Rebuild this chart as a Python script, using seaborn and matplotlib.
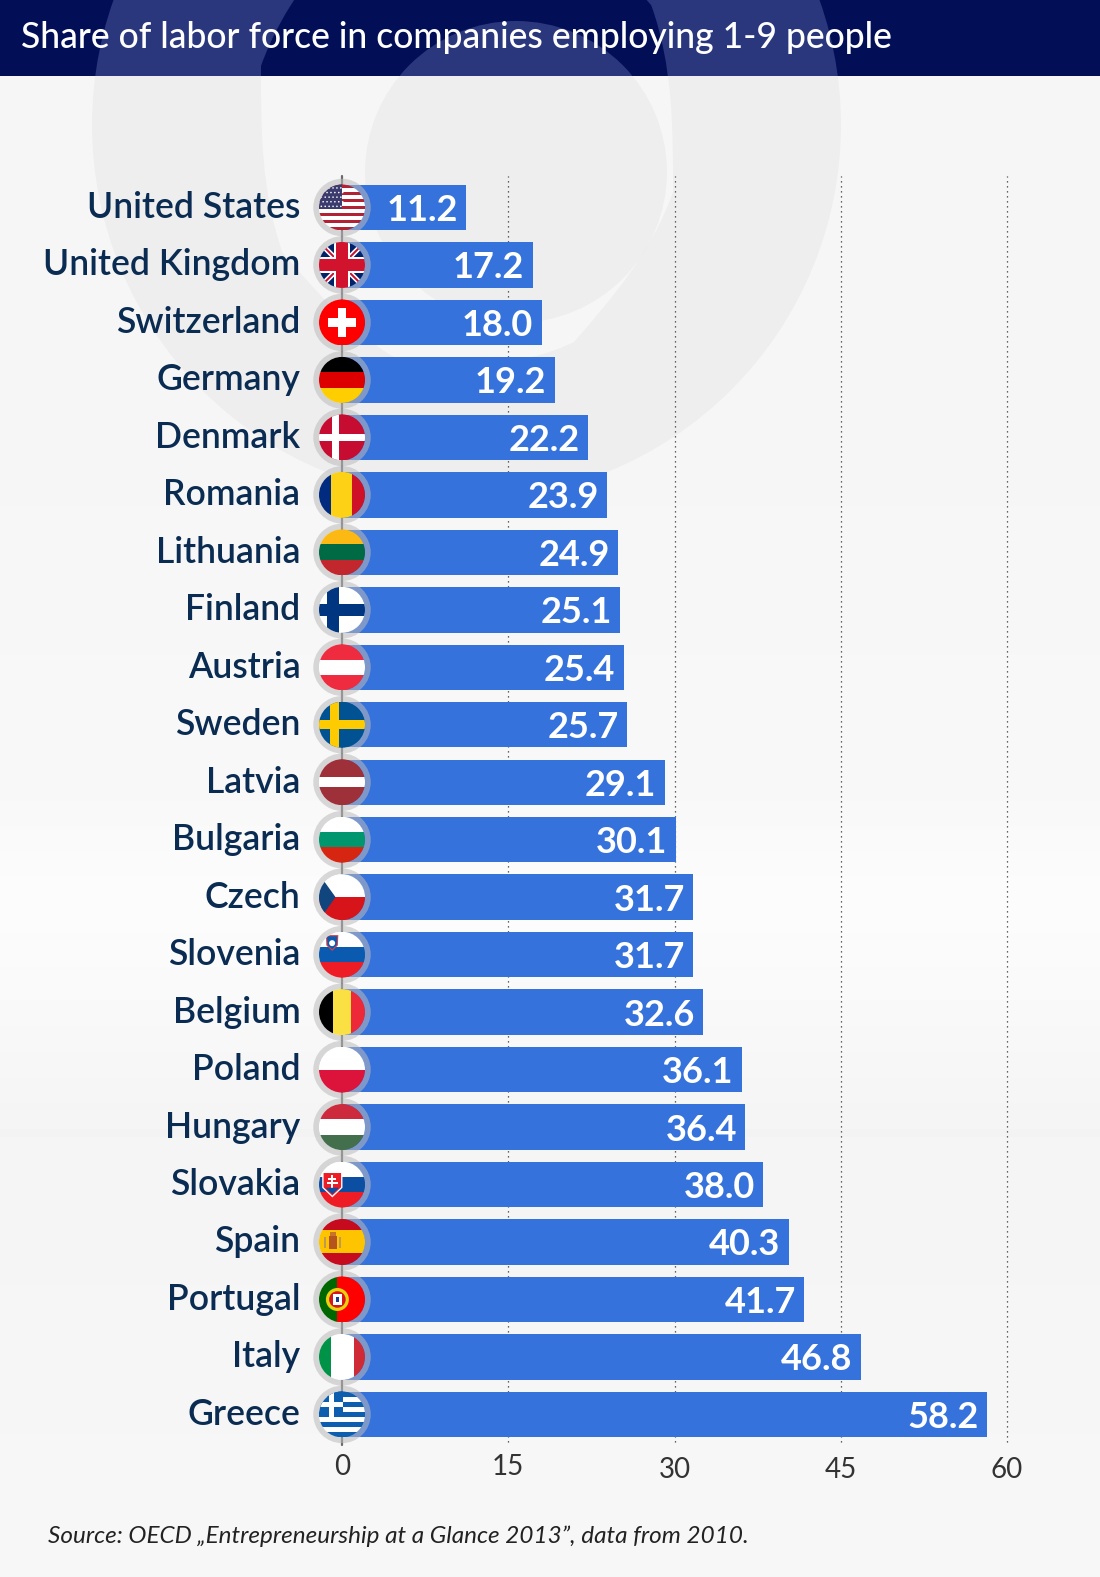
import numpy as np
import pandas as pd
import seaborn as sns
import matplotlib.pyplot as plt
from matplotlib.patches import Rectangle, Polygon, Circle, Ellipse, PathPatch
from matplotlib.path import Path
from matplotlib.transforms import Affine2D

countries = ["United States", "United Kingdom", "Switzerland", "Germany", "Denmark", "Romania",
             "Lithuania", "Finland", "Austria", "Sweden", "Latvia", "Bulgaria", "Czech", "Slovenia",
             "Belgium", "Poland", "Hungary", "Slovakia", "Spain", "Portugal", "Italy", "Greece"]
shares = [11.2, 17.2, 18.0, 19.2, 22.2, 23.9, 24.9, 25.1, 25.4, 25.7, 29.1, 30.1, 31.7, 31.7,
          32.6, 36.1, 36.4, 38.0, 40.3, 41.7, 46.8, 58.2]
value_labels = ["11.2", "17.2", "18.0", "19.2", "22.2", "23.9", "24.9", "25.1", "25.4", "25.7", "29.1",
                "30.1", "31.7", "31.7", "32.6", "36.1", "36.4", "38.0", "40.3", "41.7", "46.8", "58.2"]
x_ticks = [0, 15, 30, 45, 60]
title = "Share of labor force in companies employing 1-9 people"
source = "Source: OECD \u201eEntrepreneurship at a Glance 2013\u201d, data from 2010."

W, H = 1100, 1577
BLUE = "#3572dc"
NAVY = "#020f56"
NAVY_LIGHT = "#2a377d"
INK = "#0a2c52"

sns.set_theme(style="white")
plt.rcParams["font.family"] = ["Lato", "DejaVu Sans"]

fig = plt.figure(figsize=(W / 100, H / 100), dpi=100)


def px_axes(zorder):
    a = fig.add_axes([0, 0, 1, 1], zorder=zorder)
    a.set_xlim(0, W)
    a.set_ylim(H, 0)
    a.axis("off")
    a.patch.set_alpha(0)
    return a


# background: soft vertical gradient, header band and the big logo shape
bg = px_axes(0)
grad_y = np.arange(H)
grad = np.interp(grad_y, [0, 500, 800, 900, 1000, 1130, 1577], [245, 246, 248, 252, 249, 244, 247])
bg.imshow(grad[:, None], cmap="gray", vmin=0, vmax=255, extent=[0, W, H, 0], aspect="auto", zorder=0)
bg.add_patch(Rectangle((0, 0), W, 76, fc=NAVY, ec="none", zorder=1))

outer = Path.circle((466.5, 125), 374.5)
hole_patch = Ellipse((467, 129), 412, 476)
hole = hole_patch.get_path().transformed(hole_patch.get_patch_transform())
ring = Path(np.vstack([outer.vertices, hole.vertices[::-1]]),
            np.concatenate([outer.codes, hole.codes]))
inner = Path.circle((516, 172), 151)
body_clip = Rectangle((0, 76), W, H, transform=bg.transData)
head_clip = Rectangle((0, 0), W, 76, transform=bg.transData)
for shape in (ring, inner):
    p = PathPatch(shape, fc="black", ec="none", alpha=0.03, zorder=1)
    bg.add_patch(p)
    p.set_clip_path(body_clip)
    p = PathPatch(shape, fc=NAVY_LIGHT, ec="none", zorder=2)
    bg.add_patch(p)
    p.set_clip_path(head_clip)

# main chart, axes placed so 0 and 60 land on the reference gridlines
left, right, top, bottom = 342, 1007, 176, 1442
ax = fig.add_axes([left / W, 1 - bottom / H, (right - left) / W, (bottom - top) / H], zorder=1)
ax.patch.set_alpha(0)
df = pd.DataFrame({"country": countries, "share": shares})
sns.barplot(data=df, x="share", y="country", color=BLUE, saturation=1, width=0.79,
            edgecolor="none", linewidth=0, ax=ax, zorder=3)
ax.set_xlim(0, 60)
ax.set_ylim(21.48, -0.548)
ax.set_xlabel("")
ax.set_ylabel("")
sns.despine(ax=ax, left=True, bottom=True, top=True, right=True)
ax.set_xticks(x_ticks)
ax.tick_params(axis="x", length=0, pad=8.5, labelsize=20, labelcolor="#333333")
ax.tick_params(axis="y", length=0, pad=30, labelsize=25.6, labelcolor=INK)
for lab in ax.get_yticklabels():
    lab.set_fontweight(600)
    lab.set_verticalalignment("center_baseline")
for tick, tv in zip(ax.xaxis.get_major_ticks(), x_ticks):
    if tv >= 30:
        tick.set_pad(11)
for tv in x_ticks[1:]:
    ax.axvline(tv, color="#333333", lw=0.9, ls=(0, (1, 3)), zorder=1, clip_on=False)
ax.axvline(0, color="#6a6a6a", lw=1.6, zorder=2, ymin=-0.002, clip_on=False)

for i, (val, txt) in enumerate(zip(shares, value_labels)):
    ax.annotate(txt, (val, i), xytext=(-6, 0), textcoords="offset points", ha="right",
                va="center_baseline", color="white", fontsize=26, fontweight="bold", zorder=5)

# flags, drawn in a unit circle: x to the right, y downward
fg = px_axes(2)


def hstripes(colors, edges=None):
    edges = edges or np.linspace(-1, 1, len(colors) + 1)
    return [Rectangle((-1, edges[k]), 2, edges[k + 1] - edges[k], fc=c) for k, c in enumerate(colors)]


def vstripes(colors, edges=None):
    edges = edges or np.linspace(-1, 1, len(colors) + 1)
    return [Rectangle((edges[k], -1), edges[k + 1] - edges[k], 2, fc=c) for k, c in enumerate(colors)]


def nordic(base, cross, cx, tv, th):
    return [Rectangle((-1, -1), 2, 2, fc=base),
            Rectangle((cx - tv / 2, -1), tv, 2, fc=cross),
            Rectangle((-1, -th / 2), 2, th, fc=cross)]


def flag_usa():
    parts = hstripes(["#b22234" if k % 2 == 0 else "white" for k in range(13)])
    parts.append(Rectangle((-1, -1), 1, 1.07, fc="#3c3b6e"))
    for r in range(5):
        for c in range(6):
            parts.append(Circle((-0.9 + c * 0.17 + 0.08 * (r % 2), -0.85 + r * 0.2), 0.035, fc="white"))
    return parts


def flag_uk():
    parts = [Rectangle((-1, -1), 2, 2, fc="#012169")]
    for d in (1, -1):
        parts.append(Polygon([(-1.1, -1.1 * d + 0.16), (-1.1, -1.1 * d - 0.16),
                              (1.1, 1.1 * d - 0.16), (1.1, 1.1 * d + 0.16)], fc="white"))
        parts.append(Polygon([(-1.1, -1.1 * d + 0.06), (-1.1, -1.1 * d - 0.06),
                              (1.1, 1.1 * d - 0.06), (1.1, 1.1 * d + 0.06)], fc="#c8102e"))
    parts += [Rectangle((-0.36, -1), 0.72, 2, fc="white"), Rectangle((-1, -0.36), 2, 0.72, fc="white"),
              Rectangle((-0.26, -1), 0.52, 2, fc="#d2132d"), Rectangle((-1, -0.26), 2, 0.52, fc="#d2132d")]
    return parts


def flag_ch():
    return [Rectangle((-1, -1), 2, 2, fc="#ff0000"), Rectangle((-0.19, -0.62), 0.38, 1.24, fc="white"),
            Rectangle((-0.62, -0.19), 1.24, 0.38, fc="white")]


def flag_cz():
    return hstripes(["white", "#d7141a"]) + [Polygon([(-1, -1), (-0.28, 0), (-1, 1)], fc="#11457e")]


def flag_si():
    return hstripes(["white", "#0a5bb0", "#ee1c25"]) + [
        Polygon([(-0.7, -0.85), (-0.16, -0.85), (-0.18, -0.4), (-0.43, -0.16), (-0.68, -0.4)], fc="#d8404a"),
        Polygon([(-0.65, -0.8), (-0.21, -0.8), (-0.23, -0.42), (-0.43, -0.23), (-0.63, -0.42)], fc="#0a5bb0"),
        Circle((-0.43, -0.5), 0.13, fc="white")]


def flag_sk():
    return hstripes(["white", "#0b4ea2", "#ee1c25"]) + [
        Polygon([(-0.86, -0.56), (0.02, -0.56), (0.02, 0.14), (-0.42, 0.56), (-0.86, 0.14)], fc="white"),
        Polygon([(-0.8, -0.5), (-0.04, -0.5), (-0.04, 0.12), (-0.42, 0.48), (-0.8, 0.12)], fc="#ee1c25"),
        Rectangle((-0.46, -0.4), 0.08, 0.58, fc="white"),
        Rectangle((-0.6, -0.27), 0.36, 0.07, fc="white"),
        Rectangle((-0.65, -0.1), 0.46, 0.07, fc="white"),
        Polygon([(-0.72, 0.14), (-0.12, 0.14), (-0.42, 0.42)], fc="#0b4ea2")]


def flag_es():
    return hstripes(["#c60b1e", "#ffc400", "#c60b1e"], [-1, -0.5, 0.5, 1]) + [
        Rectangle((-0.58, -0.25), 0.36, 0.55, fc="#b5541c"),
        Rectangle((-0.78, -0.2), 0.1, 0.45, fc="#c09a50"),
        Rectangle((-0.14, -0.2), 0.1, 0.45, fc="#c09a50"),
        Rectangle((-0.52, -0.42), 0.24, 0.16, fc="#c8742a")]


def flag_pt():
    return vstripes(["#006600", "#ff0000"], [-1, -0.2, 1]) + [
        Circle((-0.2, 0), 0.5, fc="#e6d20d"),
        Circle((-0.2, 0), 0.36, fc="#d8151c"),
        Rectangle((-0.38, -0.24), 0.36, 0.48, fc="white"),
        Rectangle((-0.26, -0.12), 0.12, 0.24, fc="#1a3e8c")]


def flag_gr():
    blue = "#0d5eaf"
    parts = hstripes([blue if k % 2 == 0 else "white" for k in range(9)])
    parts += [Rectangle((-1, -1), 1.06, 1.11, fc=blue), Rectangle((-0.58, -1), 0.22, 1.11, fc="white"),
              Rectangle((-1, -0.56), 1.06, 0.22, fc="white")]
    return parts


flags = {
    "United States": flag_usa(),
    "United Kingdom": flag_uk(),
    "Switzerland": flag_ch(),
    "Germany": hstripes(["#000000", "#dd0000", "#ffce00"]),
    "Denmark": nordic("#c60c30", "white", -0.27, 0.3, 0.28),
    "Romania": vstripes(["#002b7f", "#fcd116", "#ce1126"], [-1, -0.46, 0.43, 1]),
    "Lithuania": hstripes(["#fdb913", "#006a44", "#c1272d"], [-1, -0.36, 0.33, 1]),
    "Finland": nordic("white", "#003580", -0.39, 0.55, 0.52),
    "Austria": hstripes(["#ef2b40", "white", "#ef2b40"], [-1, -0.33, 0.33, 1]),
    "Sweden": nordic("#005293", "#fecb00", -0.33, 0.4, 0.38),
    "Latvia": hstripes(["#9e3039", "white", "#9e3039"], [-1, -0.22, 0.22, 1]),
    "Bulgaria": hstripes(["white", "#00966e", "#d62612"], [-1, -0.34, 0.33, 1]),
    "Czech": flag_cz(),
    "Slovenia": flag_si(),
    "Belgium": vstripes(["#000000", "#fae042", "#ed2939"], [-1, -0.38, 0.39, 1]),
    "Poland": hstripes(["white", "#dc143c"]),
    "Hungary": hstripes(["#cd2a3e", "white", "#436f4d"], [-1, -0.34, 0.33, 1]),
    "Slovakia": flag_sk(),
    "Spain": flag_es(),
    "Portugal": flag_pt(),
    "Italy": vstripes(["#009246", "white", "#ce2b37"], [-1, -0.5, 0.5, 1]),
    "Greece": flag_gr(),
}

fig.canvas.draw()
for i, name in enumerate(countries):
    cx, cy = fg.transData.inverted().transform(ax.transData.transform((0, i)))
    fg.add_patch(Circle((cx, cy), 25.8, fc="none", ec="#bbbbbb", lw=4.2, alpha=0.55, zorder=1))
    tf = Affine2D().scale(23).translate(cx, cy) + fg.transData
    clip = Circle((0, 0), 1, transform=tf)
    for part in flags[name]:
        part.set_edgecolor("none")
        part.set_linewidth(0)
        part.set_zorder(2)
        fg.add_patch(part)
        part.set_transform(tf)
        part.set_clip_path(clip)

# label y offset: the reference sits a little above the bar centre
for lab in ax.get_yticklabels():
    lab.set_transform(lab.get_transform() + Affine2D().translate(0, 3))

# title and source
fig.text(21 / W, 1 - 38 / H, title, color="white", fontsize=25.6, fontweight=500, va="center", zorder=5)
fig.text(48 / W, 1 - 1536 / H, source, color="#222222", fontsize=17.5, style="italic", va="center", zorder=5)

fig.savefig("out.png", dpi=100)
